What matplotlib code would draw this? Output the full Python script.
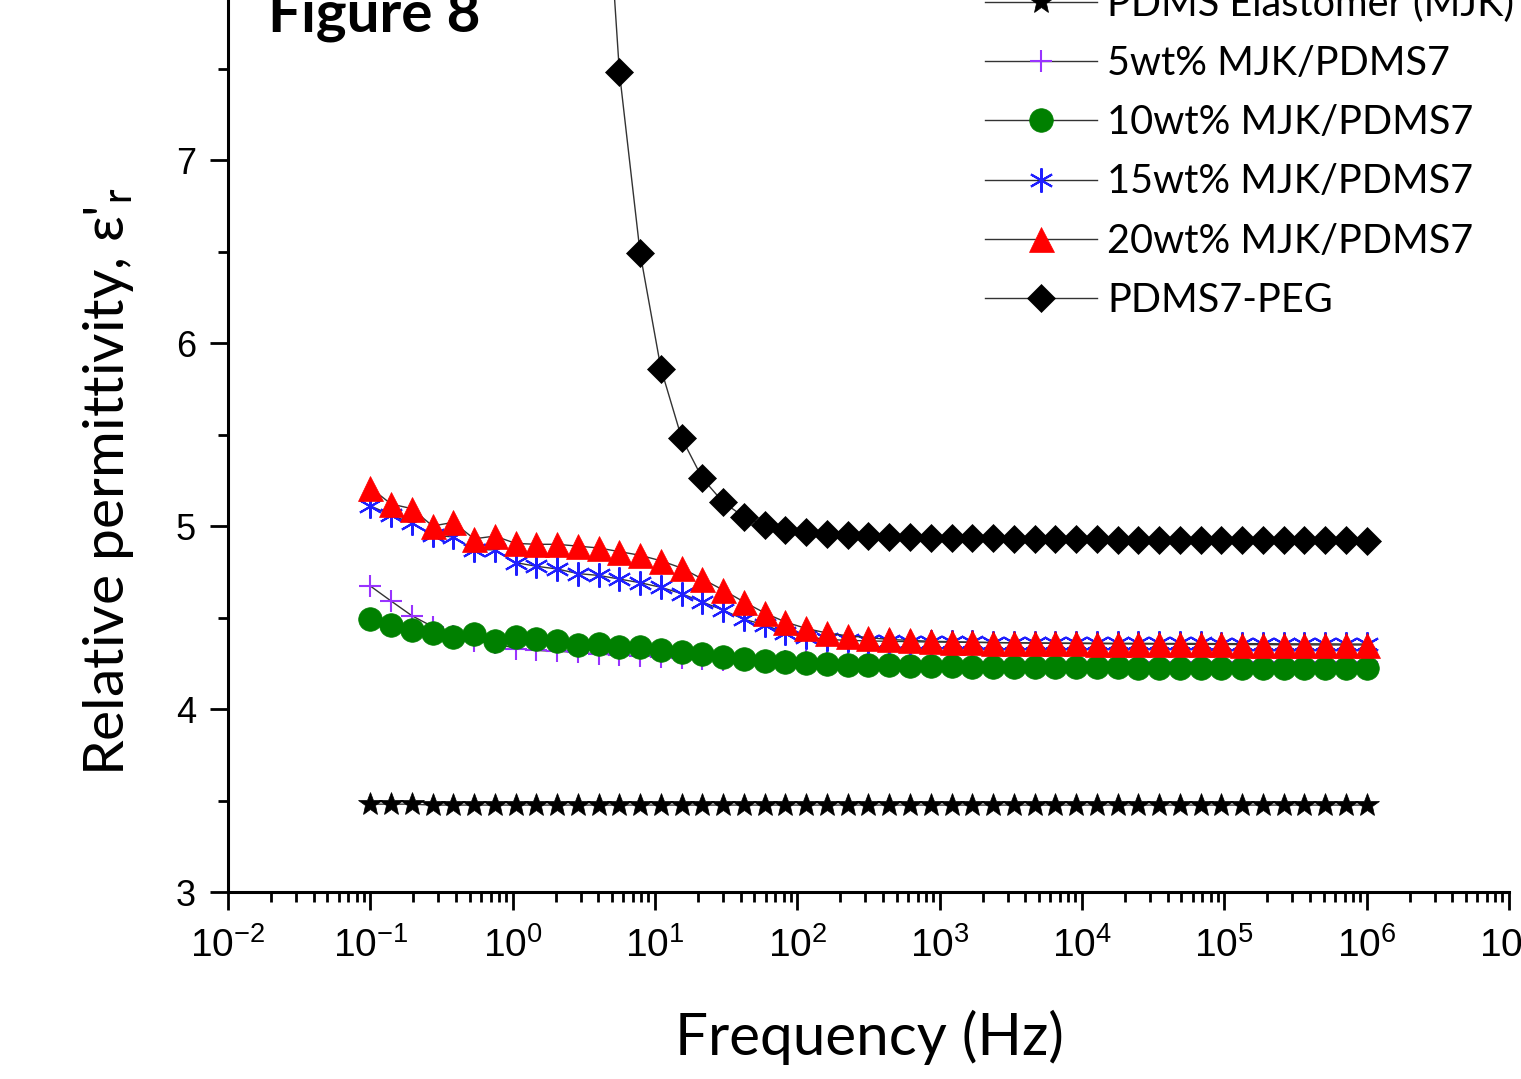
import matplotlib
matplotlib.use("Agg")
import matplotlib.pyplot as plt
from matplotlib.ticker import LogLocator, MultipleLocator, FormatStrFormatter, NullFormatter
from matplotlib.font_manager import FontProperties

# ---------------- data ----------------
freq = [0.1, 0.1399, 0.1957, 0.2738, 0.3831, 0.5360, 0.7499, 1.049, 1.468, 2.054,
        2.873, 4.020, 5.623, 7.867, 11.01, 15.40, 21.54, 30.14, 42.17, 59.00,
        82.54, 115.5, 161.6, 226.0, 316.2, 442.4, 619.0, 866.0, 1211, 1695,
        2371, 3318, 4642, 6494, 9085, 12711, 17783, 24879, 34807, 48697,
        68129, 95316, 133352, 186566, 261016, 365174, 510897, 714771, 1000000]

elastomer = [3.48, 3.48, 3.48, 3.475, 3.475, 3.475, 3.475, 3.475, 3.475, 3.475,
             3.475, 3.475, 3.475, 3.475, 3.475, 3.475, 3.475, 3.475, 3.475, 3.475,
             3.475, 3.475, 3.475, 3.475, 3.475, 3.475, 3.475, 3.475, 3.475, 3.475,
             3.475, 3.475, 3.475, 3.475, 3.475, 3.475, 3.475, 3.475, 3.475, 3.475,
             3.475, 3.475, 3.475, 3.475, 3.475, 3.475, 3.475, 3.475, 3.475]

wt5 = [4.672, 4.59, 4.51, 4.45, 4.40, 4.37, 4.36, 4.33, 4.32, 4.315,
       4.31, 4.30, 4.295, 4.29, 4.285, 4.28, 4.275, 4.27, 4.27, 4.265,
       4.265, 4.26, 4.26, 4.26, 4.26, 4.26, 4.26, 4.258, 4.258, 4.258,
       4.258, 4.256, 4.256, 4.256, 4.256, 4.256, 4.255, 4.255, 4.255, 4.255,
       4.255, 4.255, 4.255, 4.255, 4.255, 4.255, 4.255, 4.255, 4.255]

wt10 = [4.49, 4.46, 4.43, 4.417, 4.395, 4.41, 4.37, 4.395, 4.385, 4.37,
        4.35, 4.355, 4.34, 4.337, 4.32, 4.31, 4.30, 4.285, 4.275, 4.265,
        4.258, 4.25, 4.247, 4.243, 4.24, 4.238, 4.236, 4.235, 4.233, 4.232,
        4.231, 4.23, 4.229, 4.228, 4.228, 4.227, 4.227, 4.226, 4.226, 4.225,
        4.225, 4.224, 4.224, 4.223, 4.223, 4.223, 4.222, 4.222, 4.222]

wt15 = [5.11, 5.06, 5.015, 4.95, 4.94, 4.87, 4.87, 4.80, 4.78, 4.765,
        4.74, 4.73, 4.71, 4.69, 4.665, 4.63, 4.585, 4.54, 4.49, 4.46,
        4.415, 4.395, 4.38, 4.375, 4.372, 4.37, 4.368, 4.366, 4.365, 4.364,
        4.363, 4.362, 4.361, 4.36, 4.36, 4.36, 4.359, 4.359, 4.358, 4.358,
        4.358, 4.357, 4.357, 4.357, 4.356, 4.356, 4.356, 4.355, 4.355]

wt20 = [5.21, 5.12, 5.095, 5.00, 5.02, 4.93, 4.945, 4.905, 4.90, 4.90,
        4.89, 4.88, 4.86, 4.84, 4.81, 4.77, 4.71, 4.65, 4.585, 4.525,
        4.475, 4.44, 4.415, 4.40, 4.39, 4.38, 4.375, 4.37, 4.368, 4.365,
        4.363, 4.362, 4.36, 4.359, 4.358, 4.357, 4.356, 4.355, 4.355, 4.354,
        4.353, 4.353, 4.352, 4.352, 4.351, 4.351, 4.35, 4.35, 4.35]

peg = [175.0, 130.0, 98.0, 73.0, 55.0, 41.0, 31.0, 24.0, 18.5, 14.5,
       11.5, 9.2, 7.48, 6.49, 5.86, 5.48, 5.26, 5.13, 5.05, 5.005,
       4.98, 4.965, 4.955, 4.95, 4.945, 4.94, 4.94, 4.937, 4.935, 4.933,
       4.932, 4.93, 4.93, 4.929, 4.928, 4.927, 4.926, 4.926, 4.925, 4.925,
       4.924, 4.924, 4.923, 4.923, 4.922, 4.922, 4.921, 4.921, 4.92]

labels = ["PDMS Elastomer (MJK)", "5wt% MJK/PDMS7", "10wt% MJK/PDMS7",
          "15wt% MJK/PDMS7", "20wt% MJK/PDMS7", "PDMS7-PEG"]

# ---------------- styling ----------------
plt.rcParams['font.family'] = ['Liberation Sans', 'DejaVu Sans']
plt.rcParams['mathtext.default'] = 'regular'
plt.rcParams['axes.unicode_minus'] = False

W, H = 1521, 1079
fig = plt.figure(figsize=(W / 100, H / 100), dpi=100)
fig.patch.set_facecolor('white')
ax = fig.add_axes([228 / W, 187 / H, (1509 - 228) / W, 915 / H])

line_kw = dict(color='#333333', lw=1.0)
series = [
    (elastomer, dict(marker='*', ms=18, mfc='black', mec='black', mew=0.5)),
    (wt5, dict(marker='+', ms=15.5, mec='#9933FF', mew=1.5)),
    (wt10, dict(marker='o', ms=17, mfc='#008000', mec='#008000', mew=0.5)),
    (wt15, dict(marker=(6, 2, 0), ms=17.5, mec='#1F1FFF', mew=1.5)),
    (wt20, dict(marker='^', ms=18, mfc='#FF0000', mec='#FF0000', mew=0.5)),
    (peg, dict(marker='D', ms=14.5, mfc='black', mec='black', mew=0.5)),
]
handles = []
for vals, mk in series:
    h, = ax.plot(freq, vals, **line_kw, **mk)
    handles.append(h)

ax.set_xscale('log')
ax.set_xlim(1e-2, 1e7)
ax.set_ylim(3, 8)

for s in ['top', 'right']:
    ax.spines[s].set_visible(False)
for s in ['left', 'bottom']:
    ax.spines[s].set_linewidth(2.2)

ax.xaxis.set_major_locator(LogLocator(base=10, numticks=20))
ax.xaxis.set_minor_locator(LogLocator(base=10, subs=range(2, 10), numticks=100))
ax.xaxis.set_minor_formatter(NullFormatter())
ax.yaxis.set_major_locator(MultipleLocator(1))
ax.yaxis.set_minor_locator(MultipleLocator(0.5))
ax.yaxis.set_major_formatter(FormatStrFormatter('%d'))

ax.tick_params(which='major', direction='out', length=13, width=2.0, pad=10)
ax.tick_params(which='minor', direction='out', length=7, width=2.0)
ax.tick_params(axis='x', which='major', labelsize=28, pad=12)
ax.tick_params(axis='y', which='major', labelsize=26, pad=10)

lab_font = ['Lato', 'DejaVu Sans']
fig.text(869 / W, 24 / H, 'Frequency (Hz)', family=lab_font, fontsize=42,
         ha='center', va='baseline')
fig.text(108 / W, 1 - 482 / H, "Relative permittivity, ε'$_\\mathregular{r}$",
         family=lab_font, fontsize=41, rotation=90, ha='center', va='center')
fig.text(268 / W, 1 - 32 / H, 'Figure 8', family=lab_font, fontweight='bold',
         fontsize=42, ha='left', va='baseline')

leg = ax.legend(handles, labels, loc='center left',
                bbox_to_anchor=(985 / W, 1 - 152 / H), bbox_transform=fig.transFigure,
                frameon=False, prop=FontProperties(family=lab_font, size=28.5),
                handlelength=2.83, handletextpad=0.25, labelspacing=0.56,
                borderpad=0, borderaxespad=0, numpoints=1)

fig.savefig('out.png', dpi=100, facecolor='white')
